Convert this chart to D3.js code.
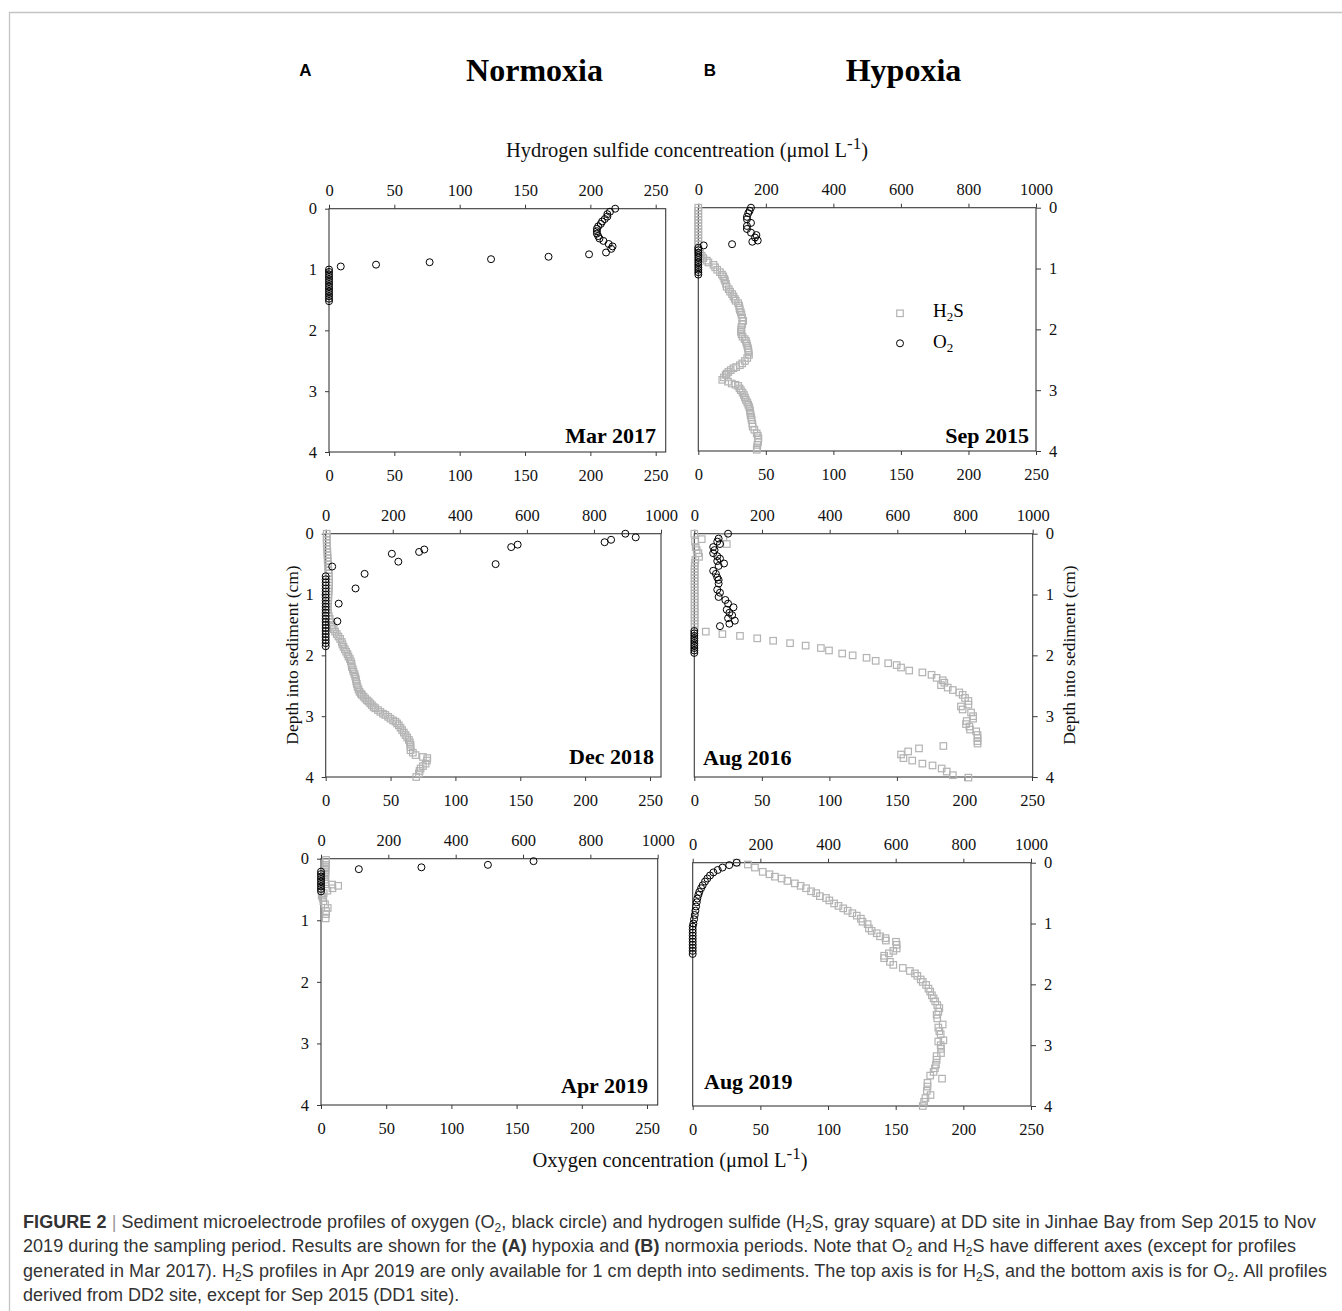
<!DOCTYPE html>
<html>
<head>
<meta charset="utf-8">
<script src="https://cdn.jsdelivr.net/npm/d3@7"></script>
<style>
  body { margin: 0; background: #fff; }
  svg text { font-family: 'Liberation Serif', 'Times New Roman', serif; }
</style>
</head>
<body>
<div id="chart"></div>
<script>
// tick values
const o2Ticks = [0, 50, 100, 150, 200, 250]
const h2sTicks = [0, 200, 400, 600, 800, 1000]
const depthTicks = [0, 1, 2, 3, 4]

// profiles, each point is [depth (cm), concentration (umol/L)]
const mar2017O2 = [
  [0.00, 219], [0.05, 215], [0.09, 213], [0.13, 213], [0.17, 211], [0.21, 209],
  [0.25, 208], [0.29, 206], [0.33, 205], [0.37, 205], [0.41, 205], [0.45, 206],
  [0.49, 207], [0.53, 210], [0.58, 214], [0.62, 217], [0.66, 216], [0.72, 212],
  [0.75, 199], [0.79, 168], [0.83, 124], [0.88, 77], [0.92, 36], [0.95, 9],
  [1.00, 0], [1.04, 0], [1.08, 0], [1.12, 0], [1.16, 0], [1.20, 0], [1.24, 0],
  [1.28, 0], [1.32, 0], [1.36, 0], [1.40, 0], [1.44, 0], [1.48, 0], [1.52, 0]
]

const sep2015O2 = [
  [0.00, 39], [0.05, 38], [0.09, 37], [0.15, 36], [0.19, 36], [0.25, 39], [0.30, 36],
  [0.35, 36], [0.41, 39], [0.45, 43], [0.49, 42], [0.54, 44], [0.56, 40], [0.60, 25],
  [0.62, 4], [0.66, 0], [0.70, 0], [0.74, 0], [0.78, 0], [0.82, 0], [0.86, 0],
  [0.90, 0], [0.94, 0], [0.98, 0], [1.02, 0], [1.06, 0], [1.10, 0]
]

const sep2015H2s = [
  [0.00, 0], [0.05, 0], [0.10, 0], [0.15, 0], [0.20, 0], [0.25, 0], [0.30, 0], [0.35, 0],
  [0.40, 0], [0.45, 0], [0.50, 0], [0.55, 0], [0.60, 0], [0.65, 0], [0.70, 0],
  [0.75, 5], [0.79, 10], [0.83, 15], [0.87, 25], [0.90, 30], [0.94, 45], [0.98, 50],
  [1.02, 56], [1.06, 64], [1.10, 70], [1.13, 74], [1.17, 77], [1.20, 79], [1.25, 82],
  [1.30, 84], [1.34, 90], [1.38, 94], [1.42, 100], [1.46, 104], [1.50, 108], [1.53, 111],
  [1.57, 118], [1.61, 121], [1.65, 122], [1.68, 123], [1.72, 126], [1.76, 128], [1.81, 130],
  [1.86, 133], [1.91, 130], [1.96, 128], [2.00, 127], [2.04, 126], [2.08, 128], [2.12, 131],
  [2.16, 137], [2.19, 141], [2.23, 143], [2.27, 145], [2.31, 147], [2.34, 148], [2.38, 149],
  [2.42, 150], [2.47, 145], [2.52, 138], [2.56, 130], [2.59, 123], [2.62, 112], [2.64, 104],
  [2.67, 96], [2.70, 89], [2.73, 84], [2.75, 81], [2.79, 76], [2.83, 71], [2.86, 88],
  [2.89, 99], [2.91, 110], [2.93, 118], [2.97, 122], [3.00, 126], [3.04, 131], [3.08, 135],
  [3.12, 138], [3.16, 141], [3.20, 145], [3.24, 148], [3.28, 151], [3.33, 153], [3.37, 154],
  [3.41, 155], [3.45, 157], [3.49, 158], [3.55, 160], [3.60, 161], [3.65, 166], [3.71, 173],
  [3.75, 176], [3.79, 178], [3.85, 177], [3.90, 175], [3.94, 174], [3.98, 173]
]

const dec2018O2 = [
  [0.00, 231], [0.06, 239], [0.10, 220], [0.14, 215], [0.18, 148], [0.22, 143],
  [0.26, 76], [0.30, 72], [0.33, 51], [0.46, 56], [0.50, 131], [0.54, 5],
  [0.66, 30], [0.90, 23], [1.15, 10], [1.44, 9],
  [0.70, 0], [0.75, 0], [0.80, 0], [0.85, 0], [0.90, 0], [0.95, 0], [1.00, 0],
  [1.05, 0], [1.10, 0], [1.15, 0], [1.20, 0], [1.25, 0], [1.30, 0], [1.35, 0],
  [1.40, 0], [1.45, 0], [1.50, 0], [1.55, 0], [1.60, 0], [1.65, 0], [1.70, 0],
  [1.75, 0], [1.80, 0], [1.85, 0]
]

const dec2018H2s = [
  [0.00, 3], [0.05, 3], [0.10, 3], [0.15, 3], [0.20, 4], [0.25, 4], [0.30, 5], [0.35, 5],
  [0.40, 6], [0.45, 6], [0.50, 7], [0.55, 7], [0.60, 8], [0.65, 9], [0.70, 10], [0.75, 10],
  [0.80, 10], [0.85, 10], [0.90, 9], [0.95, 9], [1.00, 8], [1.05, 8], [1.10, 7], [1.15, 7],
  [1.20, 6], [1.25, 6], [1.30, 7], [1.35, 9], [1.40, 12], [1.45, 15], [1.50, 18],
  [1.53, 20], [1.57, 24], [1.61, 28], [1.65, 33], [1.69, 38], [1.73, 43], [1.78, 48],
  [1.82, 50], [1.86, 53], [1.90, 57], [1.94, 61], [1.98, 65], [2.02, 68], [2.06, 72],
  [2.10, 75], [2.14, 77], [2.19, 78], [2.23, 81], [2.27, 83], [2.31, 86], [2.35, 88],
  [2.39, 90], [2.43, 91], [2.47, 93], [2.52, 95], [2.56, 98], [2.60, 101], [2.63, 105],
  [2.65, 108], [2.68, 113], [2.71, 118], [2.74, 123], [2.76, 128], [2.79, 133], [2.82, 138],
  [2.85, 143], [2.87, 148], [2.90, 156], [2.93, 163], [2.96, 171], [2.98, 178], [3.01, 186],
  [3.04, 193], [3.07, 201], [3.09, 208], [3.12, 213], [3.15, 218], [3.19, 223], [3.23, 228],
  [3.27, 233], [3.31, 238], [3.35, 243], [3.39, 248], [3.43, 251], [3.47, 253], [3.51, 253],
  [3.56, 253], [3.60, 260], [3.64, 268], [3.67, 290], [3.69, 303], [3.73, 302], [3.78, 298],
  [3.82, 290], [3.86, 283], [3.90, 280], [3.94, 278], [4.00, 270]
]

const aug2016O2 = [
  [0.00, 25], [0.08, 18], [0.13, 17], [0.17, 19], [0.22, 14], [0.27, 15], [0.32, 14],
  [0.37, 17], [0.41, 19], [0.45, 17], [0.49, 22], [0.53, 18], [0.61, 14], [0.66, 16],
  [0.72, 17], [0.76, 18], [0.82, 18], [0.92, 17], [0.97, 19], [1.04, 18], [1.09, 23],
  [1.15, 25], [1.21, 29], [1.25, 24], [1.30, 26], [1.34, 28], [1.39, 25], [1.43, 30],
  [1.48, 26], [1.52, 19],
  [1.60, 0], [1.64, 0], [1.68, 0], [1.72, 0], [1.76, 0], [1.80, 0], [1.84, 0],
  [1.88, 0], [1.92, 0], [1.96, 0]
]

const aug2016H2s = [
  [0.00, 0], [0.06, 86], [0.09, 22], [0.13, 2], [0.17, 96], [0.22, 4], [0.27, 7],
  [0.32, 12], [0.38, 14], [0.43, 3], [0.48, 2], [0.53, 1], [0.58, 1], [0.63, 1],
  [0.68, 1], [0.73, 1], [0.78, 1], [0.83, 1], [0.88, 1], [0.93, 1], [0.98, 1], [1.03, 1],
  [1.08, 1], [1.13, 1], [1.18, 1], [1.23, 1], [1.28, 1], [1.33, 1], [1.38, 1], [1.43, 1],
  [1.48, 1], [1.53, 1],
  [1.61, 34], [1.65, 83], [1.68, 135], [1.72, 186], [1.76, 233], [1.80, 283], [1.84, 329],
  [1.88, 374], [1.92, 398], [1.97, 437], [2.00, 468], [2.04, 509], [2.09, 536], [2.13, 573],
  [2.16, 598], [2.20, 611], [2.25, 635], [2.28, 674], [2.32, 701], [2.37, 716], [2.41, 734],
  [2.45, 739], [2.49, 729], [2.53, 749], [2.57, 764], [2.61, 783], [2.65, 793], [2.70, 800],
  [2.75, 810], [2.81, 810], [2.84, 788], [2.89, 793], [2.94, 818], [3.00, 824], [3.04, 824],
  [3.08, 805], [3.13, 803], [3.17, 813], [3.22, 815], [3.25, 833], [3.31, 837], [3.36, 837],
  [3.41, 837], [3.45, 837], [3.49, 736], [3.53, 664], [3.58, 632], [3.63, 611], [3.69, 618],
  [3.73, 644], [3.78, 674], [3.81, 704], [3.86, 731], [3.91, 746], [3.97, 764], [4.01, 810]
]

const apr2019O2 = [
  [0.04, 163], [0.10, 128], [0.14, 77], [0.17, 29],
  [0.21, 0], [0.25, 0], [0.29, 0], [0.33, 0], [0.37, 0], [0.41, 0], [0.45, 0],
  [0.49, 0], [0.53, 0]
]

const apr2019H2s = [
  [0.02, 15], [0.06, 15], [0.10, 15], [0.14, 14], [0.18, 14], [0.22, 13], [0.26, 13],
  [0.30, 13], [0.34, 12], [0.38, 13], [0.42, 33], [0.44, 51], [0.48, 34], [0.52, 19],
  [0.56, 8], [0.60, 2], [0.64, 5], [0.69, 7], [0.74, 12], [0.80, 20], [0.85, 15],
  [0.90, 15], [0.97, 14]
]

const aug2019O2 = [
  [0.00, 32.5], [0.04, 27], [0.08, 22], [0.12, 18.5], [0.16, 15.3], [0.21, 12.8],
  [0.26, 10.8], [0.31, 9.1], [0.37, 7.4], [0.42, 6.2], [0.48, 4.9], [0.53, 4.2],
  [0.59, 3.4], [0.65, 3], [0.72, 2.5], [0.79, 2], [0.86, 1.5], [0.93, 1], [1.00, 0.5],
  [1.05, 0], [1.10, 0], [1.15, 0], [1.20, 0], [1.25, 0], [1.30, 0], [1.35, 0],
  [1.40, 0], [1.45, 0], [1.50, 0]
]

const aug2019H2s = [
  [0.00, 130], [0.03, 163], [0.08, 184], [0.15, 207], [0.19, 227], [0.23, 243], [0.26, 263],
  [0.30, 280], [0.34, 302], [0.38, 319], [0.42, 335], [0.47, 350], [0.50, 365], [0.55, 376],
  [0.58, 394], [0.62, 404], [0.67, 418], [0.71, 431], [0.75, 445], [0.79, 458], [0.83, 472],
  [0.87, 485], [0.92, 497], [0.97, 502], [1.01, 517], [1.08, 521], [1.12, 529], [1.16, 544],
  [1.21, 554], [1.24, 570], [1.28, 571], [1.30, 601], [1.35, 603], [1.41, 603], [1.45, 593],
  [1.49, 580], [1.53, 566], [1.57, 566], [1.63, 583], [1.68, 593], [1.73, 621], [1.78, 642],
  [1.82, 657], [1.86, 664], [1.92, 674], [1.96, 680], [2.01, 690], [2.07, 697], [2.12, 702],
  [2.18, 707], [2.23, 712], [2.28, 717], [2.34, 723], [2.39, 729], [2.45, 726], [2.50, 721],
  [2.56, 723], [2.66, 739], [2.71, 726], [2.77, 729], [2.82, 733], [2.92, 741], [2.94, 726],
  [3.00, 733], [3.06, 734], [3.13, 734], [3.18, 721], [3.24, 721], [3.32, 719], [3.38, 716],
  [3.44, 712], [3.50, 702], [3.55, 737], [3.62, 694], [3.68, 694], [3.75, 692], [3.82, 703],
  [3.87, 688], [3.93, 684], [4.00, 680]
]

const axisColor = '#3a3a3a'
const squareColor = '#b3b3b3'
const circleR = 3.5
const squareSide = 6.5

// panel layout (pixel frame of each plot) and which profiles it shows
const panels = [
  { name: 'Mar 2017', left: 329, right: 665.7, top: 208.7, bottom: 452, o2End: 655.7, h2sEnd: 655.7,
    topIsO2: true, side: 'left', o2: mar2017O2, h2s: [], labelX: 656, labelY: 443, anchor: 'end' },
  { name: 'Sep 2015', left: 698.3, right: 1036, top: 207.7, bottom: 451, o2End: 1036, h2sEnd: 1036,
    topIsO2: false, side: 'right', o2: sep2015O2, h2s: sep2015H2s, labelX: 1029, labelY: 443, anchor: 'end', legend: true },
  { name: 'Dec 2018', left: 325.7, right: 661, top: 533.7, bottom: 777, o2End: 650, h2sEnd: 661,
    topIsO2: false, side: 'left', o2: dec2018O2, h2s: dec2018H2s, labelX: 654, labelY: 764, anchor: 'end' },
  { name: 'Aug 2016', left: 694.3, right: 1032.7, top: 533.7, bottom: 777, o2End: 1032, h2sEnd: 1032.7,
    topIsO2: false, side: 'right', o2: aug2016O2, h2s: aug2016H2s, labelX: 703, labelY: 765, anchor: 'start' },
  { name: 'Apr 2019', left: 321, right: 657.7, top: 858.7, bottom: 1105, o2End: 647, h2sEnd: 657.7,
    topIsO2: false, side: 'left', o2: apr2019O2, h2s: apr2019H2s, labelX: 648, labelY: 1093, anchor: 'end' },
  { name: 'Aug 2019', left: 692.7, right: 1031, top: 862.7, bottom: 1106, o2End: 1031, h2sEnd: 1031,
    topIsO2: false, side: 'right', o2: aug2019O2, h2s: aug2019H2s, labelX: 704, labelY: 1089, anchor: 'start' }
]

const fmt = d3.format('d')

const svg = d3
  .select('#chart')
  .append('svg')
  .attr('width', 1342)
  .attr('height', 1311)

// light frame around the figure
svg.append('path')
  .attr('d', 'M9.5,1311 V12.5 H1342')
  .attr('fill', 'none')
  .attr('stroke', '#c4c4c4')
  .attr('stroke-width', 1.3)

function styleAxis(g) {
  g.select('.domain').remove()
  g.attr('font-family', null).attr('font-size', null)
  g.selectAll('.tick line').attr('stroke', axisColor)
  g.selectAll('.tick text')
    .attr('fill', '#111')
    .style('font-size', '16.5px')
    .style('font-family', "'Liberation Serif', 'Times New Roman', serif")
}

function drawPanel(p) {
  const g = svg.append('g')

  const yScale = d3.scaleLinear().domain([0, 4]).range([p.top, p.bottom])
  const o2Scale = d3.scaleLinear().domain([0, 250]).range([p.left, p.o2End])
  const h2sScale = d3.scaleLinear().domain([0, 1000]).range([p.left, p.h2sEnd])

  const topScale = p.topIsO2 ? o2Scale : h2sScale
  g.append('g')
    .attr('transform', 'translate(0,' + p.top + ')')
    .call(d3.axisTop(topScale).tickValues(p.topIsO2 ? o2Ticks : h2sTicks)
      .tickFormat(fmt).tickSize(4).tickPadding(8.5))
    .call(styleAxis)

  g.append('g')
    .attr('transform', 'translate(0,' + p.bottom + ')')
    .call(d3.axisBottom(o2Scale).tickValues(o2Ticks).tickFormat(fmt).tickSize(4).tickPadding(13.5))
    .call(styleAxis)

  if (p.side === 'left') {
    g.append('g')
      .attr('transform', 'translate(' + p.left + ',0)')
      .call(d3.axisLeft(yScale).tickValues(depthTicks).tickFormat(fmt).tickSize(4).tickPadding(8))
      .call(styleAxis)
  } else {
    g.append('g')
      .attr('transform', 'translate(' + p.right + ',0)')
      .call(d3.axisRight(yScale).tickValues(depthTicks).tickFormat(fmt).tickSize(5).tickPadding(8))
      .call(styleAxis)
  }

  g.append('rect')
    .attr('x', p.left)
    .attr('y', p.top)
    .attr('width', p.right - p.left)
    .attr('height', p.bottom - p.top)
    .attr('fill', 'none')
    .attr('stroke', axisColor)
    .attr('stroke-width', 1.1)

  // gray squares: H2S on the top axis
  g.selectAll('.h2s')
    .data(p.h2s)
    .enter()
    .append('rect')
    .attr('class', 'h2s')
    .attr('x', d => h2sScale(d[1]) - squareSide / 2)
    .attr('y', d => yScale(d[0]) - squareSide / 2)
    .attr('width', squareSide)
    .attr('height', squareSide)
    .attr('fill', 'none')
    .attr('stroke', squareColor)
    .attr('stroke-width', 1.2)

  // black circles: O2 on the bottom axis
  g.selectAll('.o2')
    .data(p.o2)
    .enter()
    .append('circle')
    .attr('class', 'o2')
    .attr('cx', d => o2Scale(d[1]))
    .attr('cy', d => yScale(d[0]))
    .attr('r', circleR)
    .attr('fill', 'none')
    .attr('stroke', '#000')
    .attr('stroke-width', 1)

  g.append('text')
    .attr('x', p.labelX)
    .attr('y', p.labelY)
    .attr('text-anchor', p.anchor)
    .attr('font-weight', 'bold')
    .attr('font-size', 22)
    .attr('fill', '#000')
    .text(p.name)

  if (p.legend) {
    const lg = g.append('g')
    lg.append('rect')
      .attr('x', 900 - squareSide / 2).attr('y', 313.3 - squareSide / 2)
      .attr('width', squareSide).attr('height', squareSide)
      .attr('fill', 'none').attr('stroke', squareColor).attr('stroke-width', 1.2)
    const t1 = lg.append('text').attr('x', 933).attr('y', 317).attr('font-size', 19)
    t1.append('tspan').text('H')
    t1.append('tspan').attr('font-size', 13).attr('dy', 4).text('2')
    t1.append('tspan').attr('dy', -4).text('S')
    lg.append('circle')
      .attr('cx', 900).attr('cy', 343.3).attr('r', circleR)
      .attr('fill', 'none').attr('stroke', '#000')
    const t2 = lg.append('text').attr('x', 933).attr('y', 348).attr('font-size', 19)
    t2.append('tspan').text('O')
    t2.append('tspan').attr('font-size', 13).attr('dy', 4).text('2')
  }
}

panels.forEach(drawPanel)

// headings
svg.append('text').attr('x', 305.5).attr('y', 76).attr('text-anchor', 'middle')
  .style('font-family', "'Liberation Sans', Arial, sans-serif")
  .attr('font-weight', 'bold').attr('font-size', 17).text('A')
svg.append('text').attr('x', 710).attr('y', 76).attr('text-anchor', 'middle')
  .style('font-family', "'Liberation Sans', Arial, sans-serif")
  .attr('font-weight', 'bold').attr('font-size', 17).text('B')
svg.append('text').attr('x', 534.5).attr('y', 81).attr('text-anchor', 'middle')
  .attr('font-weight', 'bold').attr('font-size', 32).text('Normoxia')
svg.append('text').attr('x', 903.5).attr('y', 81).attr('text-anchor', 'middle')
  .attr('font-weight', 'bold').attr('font-size', 32).text('Hypoxia')

function unitLabel(x, y, text) {
  const t = svg.append('text').attr('x', x).attr('y', y)
    .attr('text-anchor', 'middle').attr('font-size', 20.5).attr('fill', '#111')
  t.append('tspan').text(text + ' (\u03bcmol L')
  t.append('tspan').attr('font-size', 17).attr('dy', -8).text('-1')
  t.append('tspan').attr('dy', 8).text(')')
}
unitLabel(687, 157, 'Hydrogen sulfide concentreation')
unitLabel(670, 1167, 'Oxygen concentration')

svg.append('text')
  .attr('transform', 'translate(298,655) rotate(-90)')
  .attr('text-anchor', 'middle').attr('font-size', 17.5).attr('fill', '#111')
  .text('Depth into sediment (cm)')
svg.append('text')
  .attr('transform', 'translate(1075,655) rotate(-90)')
  .attr('text-anchor', 'middle').attr('font-size', 17.5).attr('fill', '#111')
  .text('Depth into sediment (cm)')

// caption
const captionLines = [
  { width: 1293, parts: [['FIGURE 2', 'b'], [' | ', 'bar'], ['Sediment microelectrode profiles of oxygen (O', ''], ['2', 'sub'],
    [', black circle) and hydrogen sulfide (H', ''], ['2', 'sub'], ['S, gray square) at DD site in Jinhae Bay from Sep 2015 to Nov', '']] },
  { width: 1273, parts: [['2019 during the sampling period. Results are shown for the ', ''], ['(A)', 'b'], [' hypoxia and ', ''], ['(B)', 'b'],
    [' normoxia periods. Note that O', ''], ['2', 'sub'], [' and H', ''], ['2', 'sub'], ['S have different axes (except for profiles', '']] },
  { width: 1304, parts: [['generated in Mar 2017). H', ''], ['2', 'sub'], ['S profiles in Apr 2019 are only available for 1 cm depth into sediments. The top axis is for H', ''],
    ['2', 'sub'], ['S, and the bottom axis is for O', ''], ['2', 'sub'], ['. All profiles', '']] },
  { width: null, parts: [['derived from DD2 site, except for Sep 2015 (DD1 site).', '']] }
]
const captionY = [1227.5, 1252, 1276.5, 1301]

captionLines.forEach((line, i) => {
  const t = svg.append('text')
    .attr('x', 23)
    .attr('y', captionY[i])
    .style('font-family', "'Liberation Sans', Arial, sans-serif")
    .attr('font-size', 18)
    .attr('fill', '#333')
  if (line.width) t.attr('textLength', line.width).attr('lengthAdjust', 'spacing')
  let shifted = false
  line.parts.forEach(([txt, kind]) => {
    const s = t.append('tspan').text(txt)
    if (kind === 'sub') {
      s.attr('font-size', 12).attr('dy', 4)
      shifted = true
    } else if (shifted) {
      s.attr('dy', -4)
      shifted = false
    }
    if (kind === 'b') s.attr('font-weight', 'bold')
    if (kind === 'bar') s.attr('fill', '#999')
  })
})
</script>
</body>
</html>
